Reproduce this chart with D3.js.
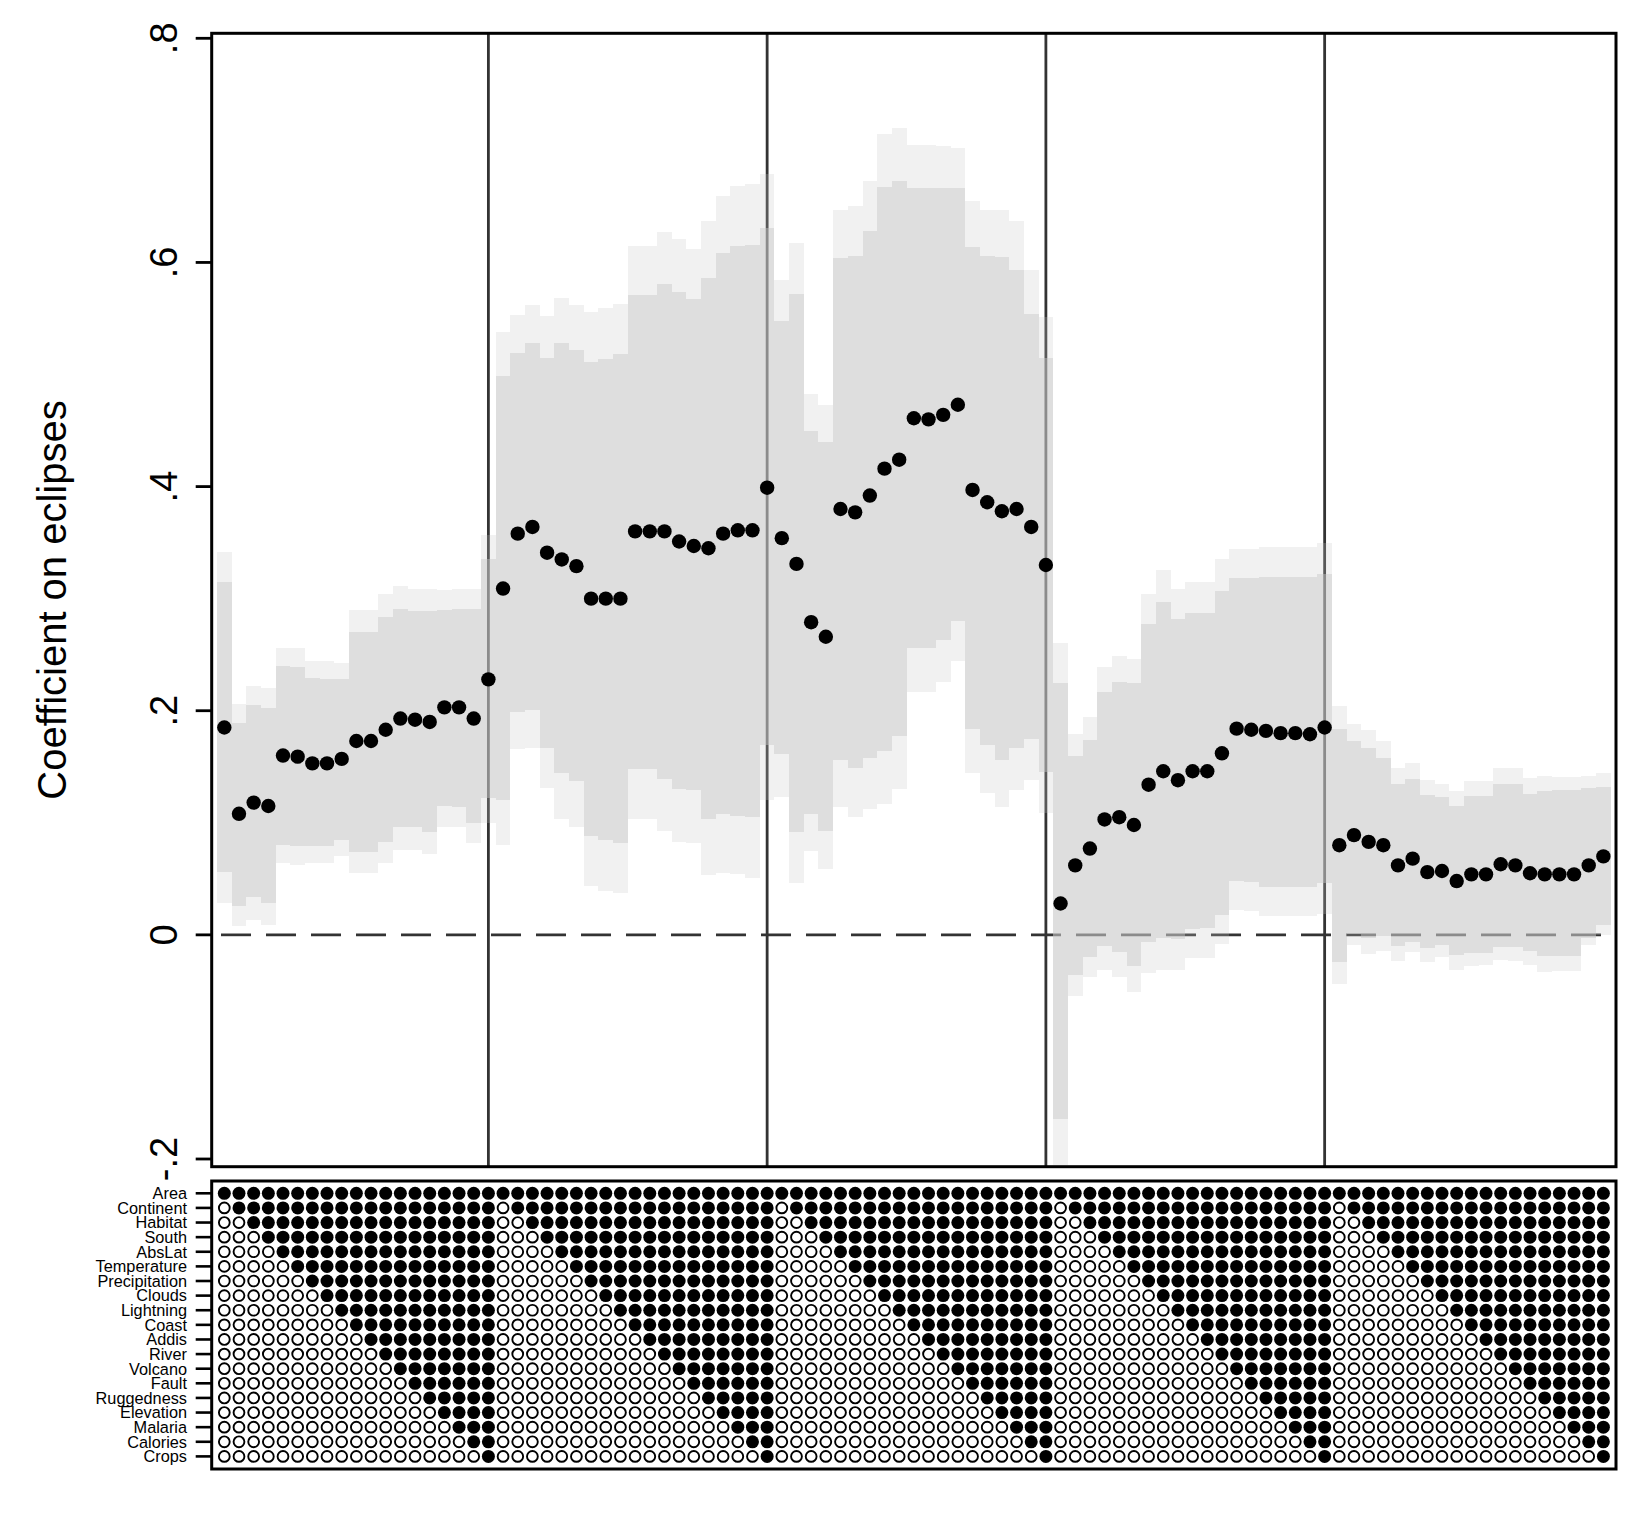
<!DOCTYPE html>
<html>
<head>
<meta charset="utf-8">
<script src="https://cdn.jsdelivr.net/npm/d3@7"></script>
<style>
body { margin: 0; background: #fff; }
svg { display: block; }
</style>
</head>
<body>
<div id="chart"></div>
<script>
//Controls, in the order they enter each specification
var controls = ['Area', 'Continent', 'Habitat', 'South', 'AbsLat', 'Temperature', 'Precipitation',
	'Clouds', 'Lightning', 'Coast', 'Addis', 'River', 'Volcano', 'Fault', 'Ruggedness',
	'Elevation', 'Malaria', 'Calories', 'Crops'];

//Point estimates, one per specification (5 panels of 19)
var est = [
	0.185, 0.108, 0.118, 0.115, 0.160, 0.159, 0.153, 0.153, 0.157, 0.173, 0.173, 0.183, 0.193, 0.192, 0.190, 0.203, 0.203, 0.193, 0.228,
	0.309, 0.358, 0.364, 0.341, 0.335, 0.329, 0.300, 0.300, 0.300, 0.360, 0.360, 0.360, 0.351, 0.347, 0.345, 0.358, 0.361, 0.361, 0.399,
	0.354, 0.331, 0.279, 0.266, 0.380, 0.377, 0.392, 0.416, 0.424, 0.461, 0.460, 0.464, 0.473, 0.397, 0.386, 0.378, 0.380, 0.364, 0.330,
	0.028, 0.062, 0.077, 0.103, 0.105, 0.098, 0.134, 0.146, 0.138, 0.146, 0.146, 0.162, 0.184, 0.183, 0.182, 0.180, 0.180, 0.179, 0.185,
	0.080, 0.089, 0.083, 0.080, 0.062, 0.068, 0.056, 0.057, 0.048, 0.054, 0.054, 0.063, 0.062, 0.055, 0.054, 0.054, 0.054, 0.062, 0.070
];

//95% interval
var lo95 = [
	0.028, 0.008, 0.013, 0.009, 0.064, 0.062, 0.064, 0.064, 0.070, 0.055, 0.055, 0.064, 0.076, 0.076, 0.072, 0.096, 0.096, 0.082, 0.100,
	0.080, 0.166, 0.167, 0.131, 0.103, 0.096, 0.044, 0.039, 0.037, 0.103, 0.103, 0.093, 0.083, 0.082, 0.053, 0.055, 0.054, 0.051, 0.120,
	0.123, 0.046, 0.075, 0.059, 0.114, 0.105, 0.112, 0.117, 0.130, 0.217, 0.217, 0.226, 0.244, 0.144, 0.127, 0.114, 0.129, 0.138, 0.109,
	-0.205, -0.055, -0.038, -0.031, -0.038, -0.051, -0.034, -0.031, -0.031, -0.021, -0.021, -0.008, 0.022, 0.021, 0.017, 0.017, 0.017, 0.017, 0.019,
	-0.044, -0.009, -0.017, -0.014, -0.023, -0.015, -0.024, -0.020, -0.031, -0.028, -0.027, -0.022, -0.023, -0.027, -0.033, -0.032, -0.032, -0.009, 0.000
];
var hi95 = [
	0.342, 0.206, 0.222, 0.220, 0.256, 0.256, 0.244, 0.244, 0.243, 0.290, 0.290, 0.304, 0.311, 0.309, 0.309, 0.308, 0.309, 0.309, 0.357,
	0.538, 0.553, 0.562, 0.552, 0.568, 0.562, 0.556, 0.559, 0.563, 0.615, 0.615, 0.627, 0.621, 0.612, 0.637, 0.659, 0.668, 0.670, 0.679,
	0.584, 0.617, 0.483, 0.473, 0.647, 0.650, 0.673, 0.715, 0.720, 0.705, 0.705, 0.704, 0.702, 0.655, 0.647, 0.647, 0.637, 0.593, 0.551,
	0.260, 0.179, 0.194, 0.239, 0.249, 0.246, 0.304, 0.326, 0.309, 0.315, 0.315, 0.335, 0.344, 0.344, 0.346, 0.346, 0.346, 0.346, 0.350,
	0.204, 0.188, 0.183, 0.173, 0.149, 0.153, 0.138, 0.135, 0.128, 0.137, 0.137, 0.149, 0.149, 0.140, 0.142, 0.141, 0.141, 0.142, 0.144
];

//90% interval
var lo90 = [
	0.056, 0.026, 0.034, 0.028, 0.080, 0.079, 0.079, 0.079, 0.085, 0.074, 0.074, 0.083, 0.096, 0.096, 0.092, 0.115, 0.114, 0.100, 0.122,
	0.120, 0.199, 0.201, 0.167, 0.144, 0.137, 0.088, 0.085, 0.082, 0.148, 0.148, 0.139, 0.130, 0.129, 0.103, 0.108, 0.106, 0.105, 0.169,
	0.161, 0.092, 0.108, 0.093, 0.156, 0.149, 0.158, 0.164, 0.177, 0.256, 0.256, 0.263, 0.280, 0.184, 0.169, 0.156, 0.167, 0.175, 0.145,
	-0.164, -0.036, -0.020, -0.010, -0.015, -0.028, -0.006, -0.003, -0.004, 0.005, 0.006, 0.018, 0.048, 0.047, 0.043, 0.043, 0.043, 0.043, 0.046,
	-0.024, 0.001, -0.003, -0.001, -0.010, -0.006, -0.012, -0.009, -0.018, -0.016, -0.016, -0.011, -0.011, -0.014, -0.019, -0.019, -0.019, -0.003, 0.009
];
var hi90 = [
	0.315, 0.189, 0.205, 0.202, 0.240, 0.239, 0.229, 0.228, 0.228, 0.270, 0.270, 0.284, 0.291, 0.289, 0.289, 0.290, 0.291, 0.291, 0.335,
	0.499, 0.519, 0.528, 0.515, 0.528, 0.522, 0.511, 0.514, 0.518, 0.571, 0.571, 0.581, 0.574, 0.567, 0.586, 0.608, 0.615, 0.616, 0.631,
	0.548, 0.572, 0.450, 0.440, 0.604, 0.606, 0.628, 0.667, 0.673, 0.666, 0.666, 0.666, 0.666, 0.614, 0.606, 0.605, 0.593, 0.554, 0.515,
	0.225, 0.160, 0.174, 0.217, 0.226, 0.225, 0.277, 0.297, 0.282, 0.287, 0.287, 0.307, 0.318, 0.318, 0.319, 0.319, 0.319, 0.319, 0.322,
	0.184, 0.173, 0.167, 0.158, 0.135, 0.139, 0.125, 0.123, 0.115, 0.124, 0.124, 0.135, 0.135, 0.126, 0.128, 0.129, 0.129, 0.131, 0.132
];

var yTicks = [-0.2, 0, 0.2, 0.4, 0.6, 0.8];
var yTickLabels = ['-.2', '0', '.2', '.4', '.6', '.8'];
var panelSize = controls.length;

var font = '"Liberation Sans", Arial, Helvetica, sans-serif';

var specs = est.map(function(d, i) {
	return {id: i + 1, est: d, lo95: lo95[i], hi95: hi95[i], lo90: lo90[i], hi90: hi90[i],
		nIn: (i % panelSize) + 1};
});

var svg = d3.select('#chart').append('svg')
	.attr('width', 1650)
	.attr('height', 1514);

svg.append('rect')
	.attr('width', 1650)
	.attr('height', 1514)
	.style('fill', '#ffffff');

//Top panel
var plotLeft = 211.7, plotRight = 1616, plotTop = 33.3, plotBottom = 1166.7;

var x = d3.scaleLinear()
	.domain([0.14, specs.length + 0.86])
	.range([plotLeft, plotRight]);

var y = d3.scaleLinear()
	.domain([-0.2, 0.8])
	.range([1159, 38.3]);

var step = x(2) - x(1);

var topGroup = svg.append('g');

//panel separators
topGroup.selectAll('line.sep')
	.data(specs.filter(function(d) { return d.nIn == panelSize && d.id < specs.length; }))
	.enter()
	.append('line')
	.attr('class', 'sep')
	.attr('x1', function(d) { return x(d.id); })
	.attr('x2', function(d) { return x(d.id); })
	.attr('y1', plotTop)
	.attr('y2', plotBottom)
	.attr('stroke', '#333333')
	.attr('stroke-width', 2.8);

//zero line
topGroup.append('line')
	.attr('x1', plotLeft)
	.attr('x2', plotRight)
	.attr('y1', y(0))
	.attr('y2', y(0))
	.attr('stroke', '#333333')
	.attr('stroke-width', 2.7)
	.attr('stroke-dasharray', '30,15')
	.attr('stroke-dashoffset', 35.7);

//95% bands
topGroup.selectAll('rect.ci95')
	.data(specs)
	.enter()
	.append('rect')
	.attr('class', 'ci95')
	.attr('x', function(d) { return x(d.id) - step / 2; })
	.attr('width', step)
	.attr('y', function(d) { return y(d.hi95); })
	.attr('height', function(d) { return y(d.lo95) - y(d.hi95); })
	.attr('shape-rendering', 'crispEdges')
	.style('fill', '#c8c8c8')
	.style('fill-opacity', 0.25);

//90% bands
topGroup.selectAll('rect.ci90')
	.data(specs)
	.enter()
	.append('rect')
	.attr('class', 'ci90')
	.attr('x', function(d) { return x(d.id) - step / 2; })
	.attr('width', step)
	.attr('y', function(d) { return y(d.hi90); })
	.attr('height', function(d) { return y(d.lo90) - y(d.hi90); })
	.attr('shape-rendering', 'crispEdges')
	.style('fill', '#c8c8c8')
	.style('fill-opacity', 0.46);

//estimates
topGroup.selectAll('circle.est')
	.data(specs)
	.enter()
	.append('circle')
	.attr('class', 'est')
	.attr('cx', function(d) { return x(d.id); })
	.attr('cy', function(d) { return y(d.est); })
	.attr('r', 7.2)
	.style('fill', '#000000');

topGroup.append('rect')
	.attr('x', plotLeft)
	.attr('y', plotTop)
	.attr('width', plotRight - plotLeft)
	.attr('height', plotBottom - plotTop)
	.style('fill', 'none')
	.attr('stroke', '#000000')
	.attr('stroke-width', 3);

//y axis
topGroup.selectAll('line.ytick')
	.data(yTicks)
	.enter()
	.append('line')
	.attr('class', 'ytick')
	.attr('x1', plotLeft - 16)
	.attr('x2', plotLeft)
	.attr('y1', function(d) { return y(d); })
	.attr('y2', function(d) { return y(d); })
	.attr('stroke', '#000000')
	.attr('stroke-width', 2.8);

topGroup.selectAll('text.ylab')
	.data(yTicks)
	.enter()
	.append('text')
	.attr('class', 'ylab')
	.attr('transform', function(d) { return 'translate(177,' + y(d) + ') rotate(-90)'; })
	.attr('text-anchor', 'middle')
	.attr('font-family', font)
	.attr('font-size', '38px')
	.text(function(d, i) { return yTickLabels[i]; });

topGroup.append('text')
	.attr('transform', 'translate(66,' + ((plotTop + plotBottom) / 2) + ') rotate(-90)')
	.attr('text-anchor', 'middle')
	.attr('font-family', font)
	.attr('font-size', '40px')
	.text('Coefficient on eclipses');

//Indicator panel
var matTop = 1181, matBottom = 1469;

var row = d3.scalePoint()
	.domain(controls)
	.range([1193.3, 1456.4]);

var matGroup = svg.append('g');

matGroup.append('rect')
	.attr('x', plotLeft)
	.attr('y', matTop)
	.attr('width', plotRight - plotLeft)
	.attr('height', matBottom - matTop)
	.style('fill', 'none')
	.attr('stroke', '#000000')
	.attr('stroke-width', 3);

matGroup.selectAll('line.rtick')
	.data(controls)
	.enter()
	.append('line')
	.attr('class', 'rtick')
	.attr('x1', plotLeft - 16)
	.attr('x2', plotLeft)
	.attr('y1', function(d) { return row(d); })
	.attr('y2', function(d) { return row(d); })
	.attr('stroke', '#000000')
	.attr('stroke-width', 2.6);

matGroup.selectAll('text.rlab')
	.data(controls)
	.enter()
	.append('text')
	.attr('class', 'rlab')
	.attr('x', 187)
	.attr('y', function(d) { return row(d); })
	.attr('dy', '0.36em')
	.attr('text-anchor', 'end')
	.attr('font-family', font)
	.attr('font-size', '16.3px')
	.text(function(d) { return d; });

var cells = [];
specs.forEach(function(s) {
	controls.forEach(function(c, j) {
		cells.push({id: s.id, control: c, on: j < s.nIn});
	});
});

matGroup.selectAll('circle.cell')
	.data(cells)
	.enter()
	.append('circle')
	.attr('class', 'cell')
	.attr('cx', function(d) { return x(d.id); })
	.attr('cy', function(d) { return row(d.control); })
	.attr('r', function(d) { return d.on ? 6.5 : 5.4; })
	.style('fill', function(d) { return d.on ? '#000000' : '#ffffff'; })
	.attr('stroke', function(d) { return d.on ? 'none' : '#000000'; })
	.attr('stroke-width', 1.9);
</script>
</body>
</html>
